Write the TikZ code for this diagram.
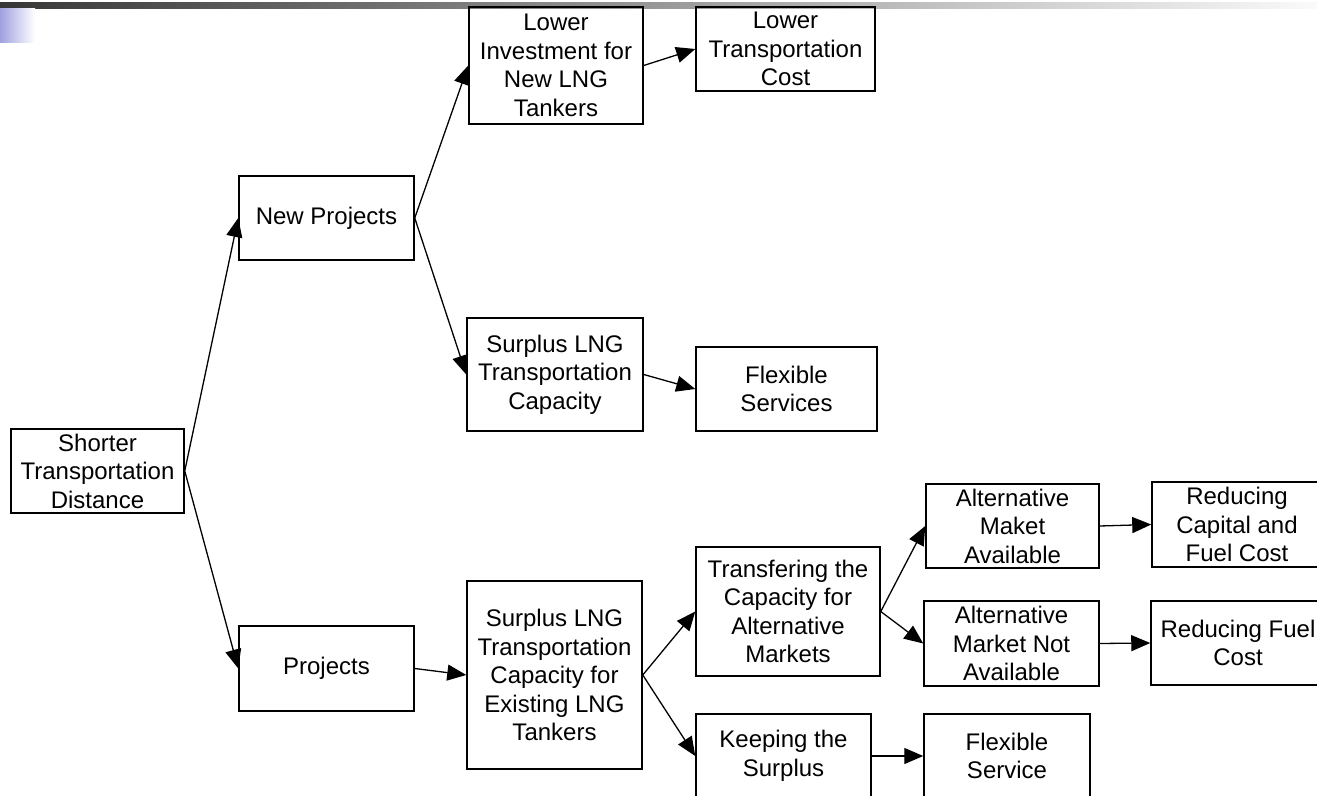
\documentclass[tikz,border=0pt]{standalone}
\usepackage{fontspec}
\setmainfont{Liberation Sans}
\usetikzlibrary{arrows.meta}
\definecolor{barleft}{RGB}{55,55,55}
\definecolor{barright}{RGB}{250,250,250}
\definecolor{lav}{RGB}{160,160,222}
\begin{document}
\begin{tikzpicture}[x=0.5pt,y=-0.5pt,
  box/.style={draw, line width=0.75pt, align=center, inner sep=0pt,
    font=\fontsize{12pt}{14.25pt}\selectfont},
  conn/.style={line width=0.65pt, -{Triangle[length=9.5pt,width=8pt]}}]
\useasboundingbox (0,0) rectangle (1317,796);
\clip (0,0) rectangle (1317,796);
% slide decoration
\shade[left color=barleft, right color=barright] (0,3) rectangle (1317,8.5);
\shade[left color=lav, right color=white] (0,8.5) rectangle (35,43);
% nodes
\node[box, minimum width=86.5pt, minimum height=42pt] (sh) at (97.5,471) {Shorter\\Transportation\\Distance};
\node[box, minimum width=87.5pt, minimum height=42pt] (np) at (326.5,218) {New Projects};
\node[box, minimum width=87pt, minimum height=58.5pt] (li) at (556,65.5) {Lower\\Investment for\\New LNG\\Tankers};
\node[box, minimum width=89.5pt, minimum height=42pt] (lt) at (785.5,49) {Lower\\Transportation\\Cost};
\node[box, minimum width=88pt, minimum height=56.5pt] (sc) at (555,374.5) {Surplus LNG\\Transportation\\Capacity};
\node[box, minimum width=90.5pt, minimum height=42pt] (fs) at (786.5,389) {Flexible\\Services};
\node[box, minimum width=87.5pt, minimum height=42.5pt] (pr) at (326.5,668.5) {Projects};
\node[box, minimum width=87.5pt, minimum height=94pt] (se) at (554.5,675) {Surplus LNG\\Transportation\\Capacity for\\Existing LNG\\Tankers};
\node[box, minimum width=92pt, minimum height=64.5pt] (tr) at (788,611.5) {Transfering the\\Capacity for\\Alternative\\Markets};
\node[box, minimum width=86.5pt, minimum height=42pt] (am) at (1012.5,526) {Alternative\\Maket\\Available};
\node[box, minimum width=87.5pt, minimum height=42.5pt] (an) at (1011.5,643.5) {Alternative\\Market Not\\Available};
\node[box, minimum width=85pt, minimum height=42.5pt] (rc) at (1237,524.5) {Reducing\\Capital and\\Fuel Cost};
\node[box, minimum width=87pt, minimum height=42pt] (rf) at (1238,643) {Reducing Fuel\\Cost};
\node[box, minimum width=87.5pt, minimum height=42pt] (ks) at (783.5,756) {Keeping the\\Surplus};
\node[box, minimum width=83pt, minimum height=42pt] (fl) at (1007,756) {Flexible\\Service};
% connectors
\draw[conn] (sh.east) -- (np.west);
\draw[conn] (sh.east) -- (pr.west);
\draw[conn] (np.east) -- (li.west);
\draw[conn] (np.east) -- (sc.west);
\draw[conn] (li.east) -- (lt.west);
\draw[conn] (sc.east) -- (fs.west);
\draw[conn] (pr.east) -- (se.west);
\draw[conn] (se.east) -- (tr.west);
\draw[conn] (se.east) -- (ks.west);
\draw[conn] (tr.east) -- (am.west);
\draw[conn] (tr.east) -- (an.west);
\draw[conn] (am.east) -- (rc.west);
\draw[conn] (an.east) -- (rf.west);
\draw[conn] (ks.east) -- (fl.west);
\end{tikzpicture}
\end{document}
